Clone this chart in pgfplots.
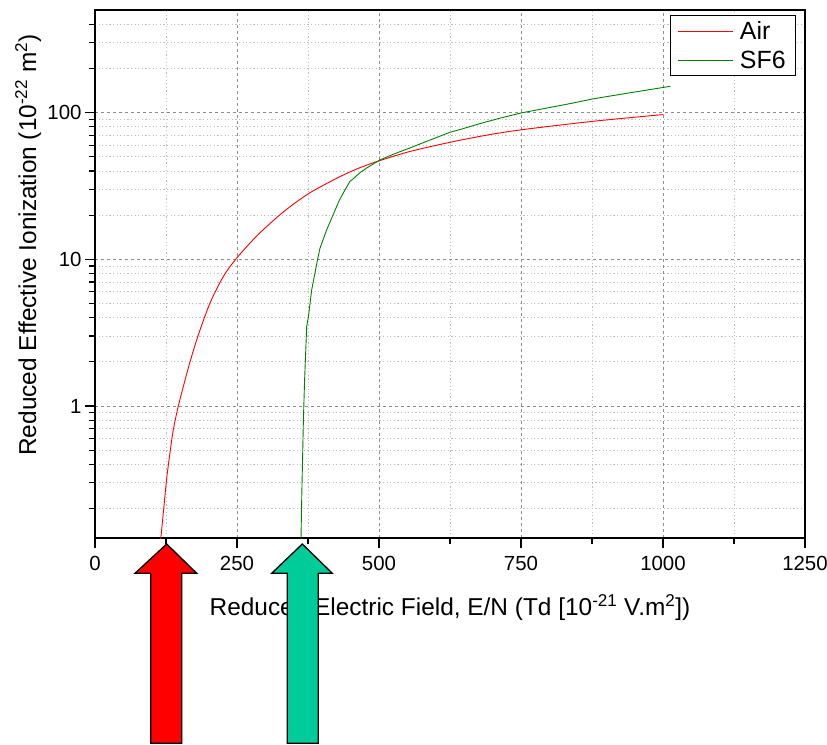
\documentclass[border=0pt]{standalone}
\usepackage{pgfplots}
\pgfplotsset{compat=1.18}
\usepackage{fontspec}
\setmainfont{Liberation Sans}
\definecolor{airred}{RGB}{255,0,0}
\definecolor{sfgreen}{RGB}{0,128,0}
\definecolor{arrowgreen}{RGB}{0,204,153}
\begin{document}
\begin{tikzpicture}
\useasboundingbox (-95bp,-207bp) rectangle (732bp,538bp);
\begin{axis}[
  scale only axis, width=710bp, height=528bp,
  ymode=log, xmin=0, xmax=1250, ymin=0.126, ymax=500,
  axis line style={line width=1.6bp},
  xtick={0,250,500,750,1000,1250},
  minor xtick={125,375,625,875,1125},
  ytick={1,10,100}, yticklabels={1,10,100},
  minor ytick={0.2,0.3,0.4,0.5,0.6,0.7,0.8,0.9,2,3,4,5,6,7,8,9,20,30,40,50,60,70,80,90,200,300,400},
  xtick pos=bottom, ytick pos=left, tick align=outside,
  major tick length=10bp, minor tick length=6bp,
  every tick/.style={black, line width=1.2bp},
  grid=both,
  major grid style={color=black!45, dash pattern=on 3bp off 3bp, line width=0.8bp},
  minor grid style={color=black!25, dash pattern=on 1.2bp off 2.4bp, line width=0.8bp},
  /pgf/number format/1000 sep={},
  /pgf/number format/assume math mode=true,
  tick label style={font=\fontsize{20.5}{23}\selectfont},
  xticklabel style={yshift=-5bp},
  xlabel={Reduced Electric Field, E/N (Td [10\textsuperscript{-21} V.m\textsuperscript{2}])},
  ylabel={Reduced Effective Ionization (10\textsuperscript{-22} m\textsuperscript{2})},
  every axis x label/.style={at={(axis description cs:0.5,-0.131)}, anchor=center,
    font=\fontsize{24.5}{27}\selectfont},
  every axis y label/.style={at={(axis description cs:-0.094,0.555)}, rotate=90, anchor=center,
    font=\fontsize{24.5}{27}\selectfont},
  legend style={at={(1,1)}, anchor=north east, xshift=-9bp, yshift=-5bp,
    draw=black, line width=0.8bp, fill=white, font=\fontsize{25}{28}\selectfont,
    legend cell align=left, inner xsep=8bp, inner ysep=4bp, row sep=6bp, column sep=4bp},
  legend image code/.code={\draw[#1] (0bp,0bp) -- (55bp,0bp);},
]
\addplot[airred, line width=0.9bp, smooth] coordinates {
(115,0.12) (116,0.127) (121,0.2) (126.2,0.32) (132,0.48) (137.9,0.69) (146.7,1.0)
(156,1.38) (167.3,2.0) (181.9,3.05) (202.5,5.03) (225.9,7.63) (249.4,10.18)
(284.6,14.4) (322.2,19.6) (343.3,22.8) (361,25.6) (384.3,29.3) (431.3,36.6)
(466.5,42.1) (501.8,47.1) (554.6,54.3) (625,62.7) (690,70.2) (754,76.6)
(877,87.2) (1000.5,96.9)
};
\addlegendentry{Air}
\addplot[sfgreen, line width=0.9bp] coordinates {
(362.5,0.12) (362.7,0.126) (364,0.24) (366.9,0.80) (369,1.5) (372.7,3.48)
(375.9,4.1) (381.5,6.19) (391.7,9.9) (396.1,11.9) (407.9,15.9) (416.7,19.1)
(430.1,25.2) (437.1,28.3) (448.9,34.0) (454.8,35.4) (466,38.8) (478.3,41.9)
(501.8,47.6) (528,52.5) (554.6,57.4) (590,65.0) (625,73.4) (642.6,76.6)
(677.8,84.1) (715,92.0) (751,99.5) (836,115) (877,124) (940,136) (1013,151)
};
\addlegendentry{SF6}
\end{axis}
\begin{scope}[x=1bp, y=1bp]
\draw[black, line width=1.3bp, fill=airred]
  (71.7,-6) -- (101.7,-35.3) -- (86.7,-35.3) -- (86.7,-205.3) -- (55.7,-205.3)
  -- (55.7,-35.3) -- (40,-35.3) -- cycle;
\draw[black, line width=1.3bp, fill=arrowgreen]
  (207.3,-6) -- (237.3,-35.3) -- (223.3,-35.3) -- (223.3,-205.3) -- (192.3,-205.3)
  -- (192.3,-35.3) -- (176.7,-35.3) -- cycle;
\end{scope}
\end{tikzpicture}
\end{document}
